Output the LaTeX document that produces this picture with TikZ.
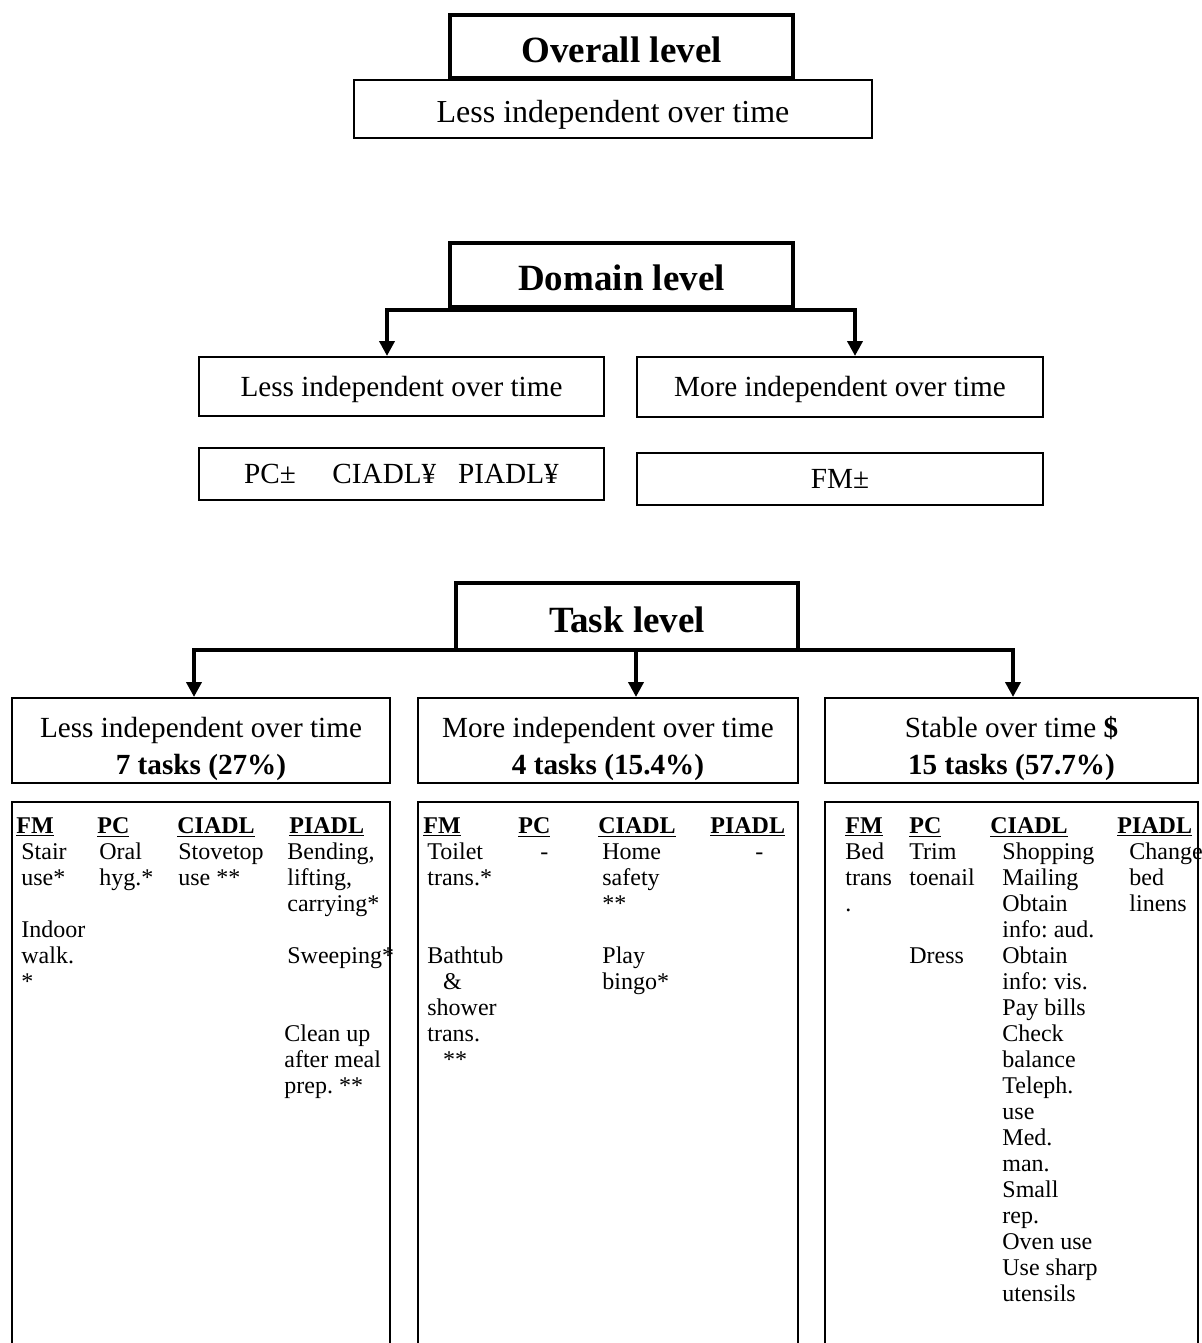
\documentclass[tikz,border=0pt]{standalone}
\usepackage{fontspec}
\setmainfont{Liberation Serif}
\usetikzlibrary{arrows.meta}
\frenchspacing
\newcommand\levelfont{\fontsize{18.5}{22}\selectfont\bfseries}
\newcommand\boxfont{\fontsize{14.6}{18.5}\selectfont}
\newcommand\taskfont{\fontsize{12}{13}\selectfont}
\newcommand\padtop[1]{\rule{0pt}{#1}}
\tikzset{
  lvl/.style={draw, line width=2pt, inner sep=0pt, font=\levelfont},
  box/.style={draw, line width=1pt, inner sep=0pt, align=center, font=\boxfont},
  conn/.style={line width=2.2pt, {Triangle[length=7.5pt,width=7.5pt]}-{Triangle[length=7.5pt,width=7.5pt]}},
  down/.style={line width=2.2pt, -{Triangle[length=7.5pt,width=7.5pt]}},
  col/.style={line width=1.2pt},
  hdr/.style={anchor=base west, inner sep=0pt, font=\taskfont\bfseries},
  item/.style={anchor=north west, inner sep=0pt, align=left, font=\taskfont}
}
\begin{document}
\begin{tikzpicture}[x=0.5pt, y=-0.5pt, line join=miter]
\useasboundingbox (0,0) rectangle (1202,1343);
% overall level
\node[lvl, minimum width=171.5pt, minimum height=31.5pt] (otitle) at (621.5,46.5) {\padtop{16pt}Overall level};
\node[box, font=\fontsize{16}{19}\selectfont, minimum width=259pt, minimum height=29pt] (oless) at (613,109) {\padtop{17pt}Less independent over time};

% domain level
\node[lvl, minimum width=171.5pt, minimum height=32pt] (dtitle) at (621.5,275) {\padtop{16pt}Domain level};
\node[box, minimum width=202.5pt, minimum height=29.5pt] (dless) at (401.5,386.5) {\padtop{13pt}Less independent over time};
\node[box, minimum width=203pt, minimum height=30pt] (dmore) at (840,387) {\padtop{13pt}More independent over time};
\node[box, minimum width=202.5pt, minimum height=26pt] (dlessdom) at (401.5,474) {PC±\hspace{1.25em}CIADL¥\hspace{0.75em}PIADL¥};
\node[box, minimum width=203pt, minimum height=26pt] (dmoredom) at (840,479) {FM±};
\coordinate (dl) at (387,310);
\coordinate (dr) at (855,310);
\draw[conn] (dl |- dless.north) -- (dl) -- (dr) -- (dr |- dmore.north);

% task level
\node[lvl, minimum width=171pt, minimum height=33.5pt] (ttitle) at (627,616.5) {\padtop{16pt}Task level};
\node[box, minimum width=189pt, minimum height=42.5pt] (tless) at (201,740.5) {\padtop{19pt}Less independent over time\\\textbf{7 tasks (27\%)}};
\node[box, minimum width=190pt, minimum height=42.5pt] (tmore) at (608,740.5) {\padtop{19pt}More independent over time\\\textbf{4 tasks (15.4\%)}};
\node[box, minimum width=186.5pt, minimum height=42.5pt] (tstable) at (1011.5,740.5) {\padtop{19pt}Stable over time \textbf{\$}\\\textbf{15 tasks (57.7\%)}};
\coordinate (tl) at (194,650);
\coordinate (tm) at (636,650);
\coordinate (tr) at (1013,650);
\draw[conn] (tl |- tless.north) -- (tl) -- (tr) -- (tr |- tstable.north);
\draw[down] (tm) -- (tm |- tmore.north);

% task lists, cut at the bottom
\draw[col] (12,1343) |- (390,802) -- (390,1343);
\draw[col] (418,1343) |- (798,802) -- (798,1343);
\draw[col] (825,1343) |- (1198,802) -- (1198,1343);
\foreach \x/\n/\t in {16/lfm/FM, 97/lpc/PC, 177/lci/CIADL, 289/lpi/PIADL,
                      423/mfm/FM, 518/mpc/PC, 598/mci/CIADL, 710/mpi/PIADL,
                      845/sfm/FM, 909/spc/PC, 990/sci/CIADL, 1117/spi/PIADL}
  \node[hdr] (h\n) at (\x,833) {\underline{\t}};

\node[item] (lfm) at (21,841) {\strut Stair\\use*\\[13pt]Indoor\\walk.\\*};
\node[item] (lpc) at (99,841) {\strut Oral\\hyg.*};
\node[item] (lci) at (178,841) {\strut Stovetop\\use **};
\node[item] (lpi) at (287,841) {\strut Bending,\\lifting,\\carrying*\\[13pt]Sweeping*\\[26pt]\hspace*{-1.5pt}Clean up\\\hspace*{-1.5pt}after meal\\\hspace*{-1.5pt}prep. **};

\node[item] (mfm) at (427,841) {\strut Toilet\\trans.*\\[26pt]Bathtub\\\hspace*{0.65em}\&\\shower\\trans.\\\hspace*{0.65em}**};
\node[item] (mpc) at (540,841) {\strut -};
\node[item] (mci) at (602,841) {\strut Home\\safety\\**\\[13pt]Play\\bingo*};
\node[item] (mpi) at (755,841) {\strut -};

\node[item] (sfm) at (845,841) {\strut Bed\\trans\\.};
\node[item] (spc) at (909,841) {\strut Trim\\toenail\\[26pt]Dress};
\node[item] (sci) at (1002,841) {\strut Shopping\\Mailing\\Obtain\\info: aud.\\Obtain\\info: vis.\\Pay bills\\Check\\balance\\Teleph.\\use\\Med.\\man.\\Small\\rep.\\Oven use\\Use sharp\\utensils};
\node[item] (spi) at (1129,841) {\strut Change\\bed\\linens};
\end{tikzpicture}
\end{document}
